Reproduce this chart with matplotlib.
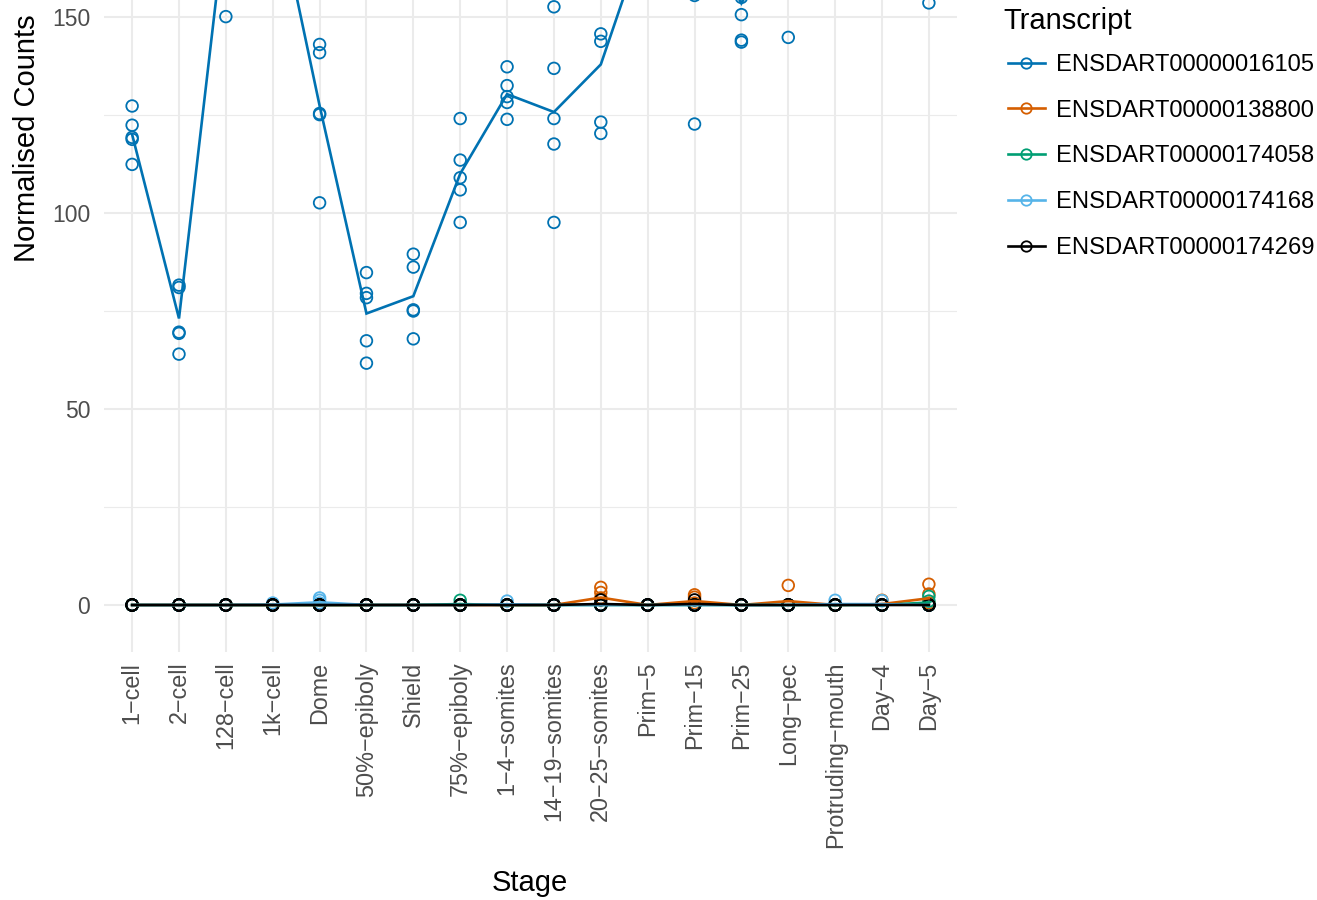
import matplotlib
matplotlib.use("Agg")
import matplotlib.pyplot as plt
from matplotlib.lines import Line2D
import numpy as np

plt.rcParams['font.family'] = ['Liberation Sans', 'DejaVu Sans']

stages = ["1-cell", "2-cell", "128-cell", "1k-cell", "Dome", "50%-epiboly", "Shield",
          "75%-epiboly", "1-4-somites", "14-19-somites", "20-25-somites", "Prim-5",
          "Prim-15", "Prim-25", "Long-pec", "Protruding-mouth", "Day-4", "Day-5"]

transcripts = ["ENSDART00000016105", "ENSDART00000138800", "ENSDART00000174058",
               "ENSDART00000174168", "ENSDART00000174269"]

# replicate normalised counts per stage (values above ~154 lie outside the visible area)
counts_016105 = [
    [127.3, 122.4, 119.3, 118.8, 112.4],
    [81.6, 81.0, 69.6, 69.3, 64.0],
    [150.1, 165.0, 178.0, 190.0, 197.0],
    [160.0, 172.0, 185.0, 195.0, 208.0],
    [143.0, 140.9, 125.4, 125.1, 102.6],
    [84.8, 79.5, 78.4, 67.4, 61.7],
    [89.5, 86.2, 75.3, 75.0, 67.9],
    [124.1, 113.5, 109.0, 105.9, 97.6],
    [137.3, 132.5, 129.7, 128.2, 123.9],
    [152.6, 136.9, 124.1, 117.6, 97.6],
    [145.7, 143.8, 123.2, 120.3, 156.5],
    [160.0, 165.0, 172.0, 180.0, 188.0],
    [122.7, 155.5, 180.0, 200.0, 220.0],
    [150.6, 144.1, 143.6, 155.0, 174.2],
    [144.8, 160.0, 170.0, 190.0, 210.0],
    [170.0, 180.0, 195.0, 205.0, 215.0],
    [165.0, 180.0, 190.0, 200.0, 210.0],
    [153.6, 165.0, 180.0, 190.0, 205.0],
]
counts_138800 = [
    [0, 0, 0, 0, 0], [0, 0, 0, 0, 0], [0, 0, 0, 0, 0], [0, 0, 0, 0, 0],
    [0, 0, 0, 0, 0], [0, 0, 0, 0, 0], [0, 0, 0, 0, 0], [0, 0, 0, 0, 0],
    [0, 0, 0, 0, 0], [0, 0, 0, 0, 0], [4.5, 3.2, 1.8, 0, 0], [0, 0, 0, 0, 0],
    [2.6, 2.0, 0.5, 0, 0], [0, 0, 0, 0, 0], [5.0, 0, 0, 0, 0], [0, 0, 0, 0, 0],
    [1.2, 0, 0, 0, 0], [5.3, 2.8, 0.5, 0, 0],
]
counts_174058 = [
    [0, 0, 0, 0, 0], [0, 0, 0, 0, 0], [0, 0, 0, 0, 0], [0, 0, 0, 0, 0],
    [0, 0, 0, 0, 0], [0, 0, 0, 0, 0], [0, 0, 0, 0, 0], [1.2, 0, 0, 0, 0],
    [0, 0, 0, 0, 0], [0, 0, 0, 0, 0], [0, 0, 0, 0, 0], [0, 0, 0, 0, 0],
    [0, 0, 0, 0, 0], [0, 0, 0, 0, 0], [0, 0, 0, 0, 0], [0, 0, 0, 0, 0],
    [0, 0, 0, 0, 0], [2.2, 1.0, 0, 0, 0],
]
counts_174168 = [
    [0, 0, 0, 0, 0], [0, 0, 0, 0, 0], [0, 0, 0, 0, 0], [0.5, 0, 0, 0, 0],
    [1.8, 1.2, 0.5, 0, 0], [0, 0, 0, 0, 0], [0, 0, 0, 0, 0], [0, 0, 0, 0, 0],
    [1.0, 0, 0, 0, 0], [0, 0, 0, 0, 0], [0, 0, 0, 0, 0], [0, 0, 0, 0, 0],
    [0, 0, 0, 0, 0], [0, 0, 0, 0, 0], [0, 0, 0, 0, 0], [1.2, 0, 0, 0, 0],
    [1.1, 0, 0, 0, 0], [0, 0, 0, 0, 0],
]
counts_174269 = [
    [0, 0, 0, 0, 0], [0, 0, 0, 0, 0], [0, 0, 0, 0, 0], [0, 0, 0, 0, 0],
    [0, 0, 0, 0, 0], [0, 0, 0, 0, 0], [0, 0, 0, 0, 0], [0, 0, 0, 0, 0],
    [0, 0, 0, 0, 0], [0, 0, 0, 0, 0], [1.3, 0, 0, 0, 0], [0, 0, 0, 0, 0],
    [1.3, 0, 0, 0, 0], [0, 0, 0, 0, 0], [0, 0, 0, 0, 0], [0, 0, 0, 0, 0],
    [0, 0, 0, 0, 0], [0, 0, 0, 0, 0],
]
colors = ["#0072B2", "#D55E00", "#009E73", "#56B4E9", "#000000"]

all_counts = [counts_016105, counts_138800, counts_174058, counts_174168, counts_174269]

W, H = 1317, 900
fig = plt.figure(figsize=(W / 100, H / 100), dpi=100)
ax = fig.add_axes([104 / W, 1 - 652 / H, (957 - 104) / W, 652 / H])

x = np.arange(len(stages))
for counts, col in zip(all_counts, colors):
    for i, reps in enumerate(counts):
        ax.scatter([x[i]] * len(reps), reps, s=70, facecolors='none',
                   edgecolors=col, linewidths=1.3, zorder=3)
for counts, col in zip(all_counts, colors):
    means = [np.mean(r) for r in counts]
    ax.plot(x, means, color=col, lw=1.9, zorder=4, solid_joinstyle='miter')

ax.set_xlim(-0.6, len(stages) - 0.4)
ax.set_ylim(-11.99, 154.34)
ax.set_yticks([0, 50, 100, 150])
ax.set_yticks([25, 75, 125], minor=True)
ax.set_xticks(x)
ax.set_xticklabels([s.replace("-", "\u2212") for s in stages], rotation=90,
                   fontsize=16.8, color="#4D4D4D")
ax.tick_params(axis='y', labelsize=16.5, labelcolor="#4D4D4D", length=0, pad=10)
ax.tick_params(axis='x', length=0, pad=7)
ax.tick_params(which='minor', length=0)
ax.grid(True, which='major', color="#EBEBEB", lw=1.5)
ax.grid(True, which='minor', axis='y', color="#EBEBEB", lw=0.8)
ax.set_axisbelow(True)
for sp in ax.spines.values():
    sp.set_visible(False)

fig.text(530 / W, 1 - 883 / H, "Stage", fontsize=21, ha='center', va='center')
fig.text(27 / W, 1 - 138 / H, "Normalised Counts", rotation=90, fontsize=21,
         ha='center', va='center')

fig.text(1003 / W, 1 - 21 / H, "Transcript", fontsize=21, ha='left', va='center')
handles = [Line2D([0], [0], color=c, lw=1.9, marker='o', markersize=7.5,
                  markerfacecolor='none', markeredgewidth=1.3) for c in colors]
leg = fig.legend(handles, transcripts, loc='upper left',
                 bbox_to_anchor=(1008 / W, 1 - 54 / H), frameon=False, fontsize=17.1,
                 handlelength=1.55, handletextpad=0.45, labelspacing=1.0,
                 borderpad=0, borderaxespad=0)

fig.savefig("out.png", dpi=100)
